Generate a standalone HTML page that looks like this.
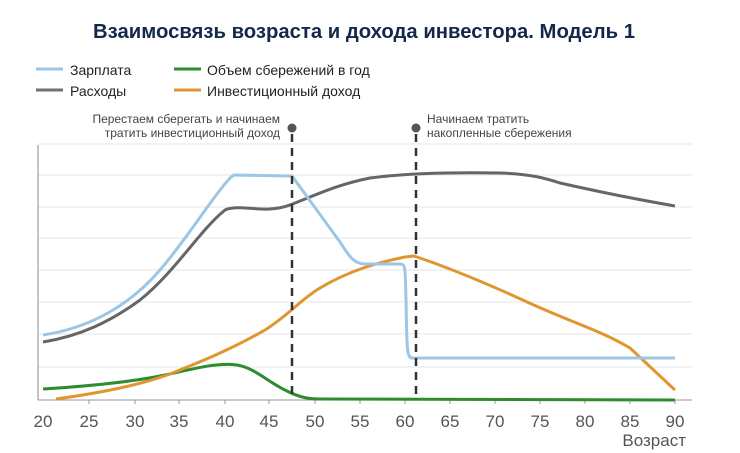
<!DOCTYPE html>
<html><head><meta charset="utf-8"><style>html,body{margin:0;padding:0;background:#fff}svg{display:block}</style></head><body>
<svg width="740" height="453" viewBox="0 0 740 453" xmlns="http://www.w3.org/2000/svg" font-family="Liberation Sans, DejaVu Sans, sans-serif">
<text x="93" y="38" font-size="20" font-weight="bold" fill="#14284a" textLength="542" lengthAdjust="spacingAndGlyphs">Взаимосвязь возраста и дохода инвестора. Модель 1</text>
<g stroke-width="3">
<line x1="36" y1="69" x2="63" y2="69" stroke="#9cc6e6"/>
<line x1="36" y1="90" x2="63" y2="90" stroke="#707070"/>
<line x1="174" y1="69" x2="201" y2="69" stroke="#2e8b2e"/>
<line x1="174" y1="90" x2="201" y2="90" stroke="#e0962e"/>
</g>
<g font-size="14" fill="#222">
<text x="70" y="75">Зарплата</text>
<text x="70" y="96">Расходы</text>
<text x="207" y="75">Объем сбережений в год</text>
<text x="207" y="96">Инвестиционный доход</text>
</g>
<g stroke="#e6e6e6" stroke-width="1">
<line x1="38" y1="144" x2="692" y2="144"/><line x1="38" y1="175" x2="692" y2="175"/>
<line x1="38" y1="207" x2="692" y2="207"/><line x1="38" y1="238" x2="692" y2="238"/>
<line x1="38" y1="270" x2="692" y2="270"/><line x1="38" y1="302" x2="692" y2="302"/>
<line x1="38" y1="334" x2="692" y2="334"/><line x1="38" y1="367" x2="692" y2="367"/>
</g>
<line x1="38" y1="145" x2="38" y2="400" stroke="#888" stroke-width="1"/>
<line x1="38" y1="400" x2="692" y2="400" stroke="#999" stroke-width="1"/>
<g stroke="#999"><line x1="89" y1="400" x2="89" y2="404"/><line x1="135" y1="400" x2="135" y2="404"/><line x1="179" y1="400" x2="179" y2="404"/><line x1="225" y1="400" x2="225" y2="404"/><line x1="269" y1="400" x2="269" y2="404"/><line x1="315" y1="400" x2="315" y2="404"/><line x1="360" y1="400" x2="360" y2="404"/><line x1="405" y1="400" x2="405" y2="404"/><line x1="450" y1="400" x2="450" y2="404"/><line x1="495" y1="400" x2="495" y2="404"/><line x1="540" y1="400" x2="540" y2="404"/><line x1="585" y1="400" x2="585" y2="404"/><line x1="630" y1="400" x2="630" y2="404"/><line x1="675" y1="400" x2="675" y2="404"/></g>
<g font-size="17" fill="#555" text-anchor="middle">
<text x="43" y="427">20</text><text x="89" y="427">25</text><text x="135" y="427">30</text><text x="179" y="427">35</text><text x="225" y="427">40</text><text x="269" y="427">45</text><text x="315" y="427">50</text><text x="360" y="427">55</text><text x="405" y="427">60</text><text x="450" y="427">65</text><text x="495" y="427">70</text><text x="540" y="427">75</text><text x="585" y="427">80</text><text x="630" y="427">85</text><text x="675" y="427">90</text>
</g>
<text x="686" y="446" font-size="17" fill="#555" text-anchor="end">Возраст</text>
<g fill="none" stroke-width="3" stroke-linejoin="round">
<path d="M43,389 C90,386 130,382 160,376 C190,370 215,362 237,365 C255,368 268,382 285,390 C300,398 310,399 320,399 L675,400" stroke="#2e8b2e"/>
<path d="M56,399 C100,393 140,385 170,374 C200,362 230,350 265,330 C290,314 300,300 320,288 C350,270 380,262 405,257 L414,256 C450,268 490,285 525,301 C570,322 600,330 630,348 L675,390" stroke="#e0962e"/>
<path d="M43,342 C80,336 110,322 140,300 C175,272 200,230 225,210 C235,205 255,210 270,209 C285,208 292,204 300,201 C320,193 340,184 370,178 C400,174 440,172 500,173 C530,174 545,178 560,183 C600,192 640,200 675,206" stroke="#666"/>
<path d="M43,335 C90,328 130,305 160,270 C190,235 210,200 230,178 L234,175 L292,176 L340,242 C350,258 355,264 365,264 L400,264 C406,264 405,268 406,300 C407,340 406,358 412,358 L675,358" stroke="#9cc6e6"/>
</g>
<g stroke="#333" stroke-width="2.5" stroke-dasharray="8,6">
<line x1="292" y1="134" x2="292" y2="400"/><line x1="416" y1="134" x2="416" y2="400"/>
</g>
<circle cx="292" cy="128" r="4.5" fill="#555"/><circle cx="416" cy="128" r="4.5" fill="#555"/>
<g font-size="12" fill="#444">
<text x="280" y="123" text-anchor="end">Перестаем сберегать и начинаем</text>
<text x="280" y="137" text-anchor="end">тратить инвестиционный доход</text>
<text x="427" y="123">Начинаем тратить</text>
<text x="427" y="137">накопленные сбережения</text>
</g>
</svg>
</body></html>
